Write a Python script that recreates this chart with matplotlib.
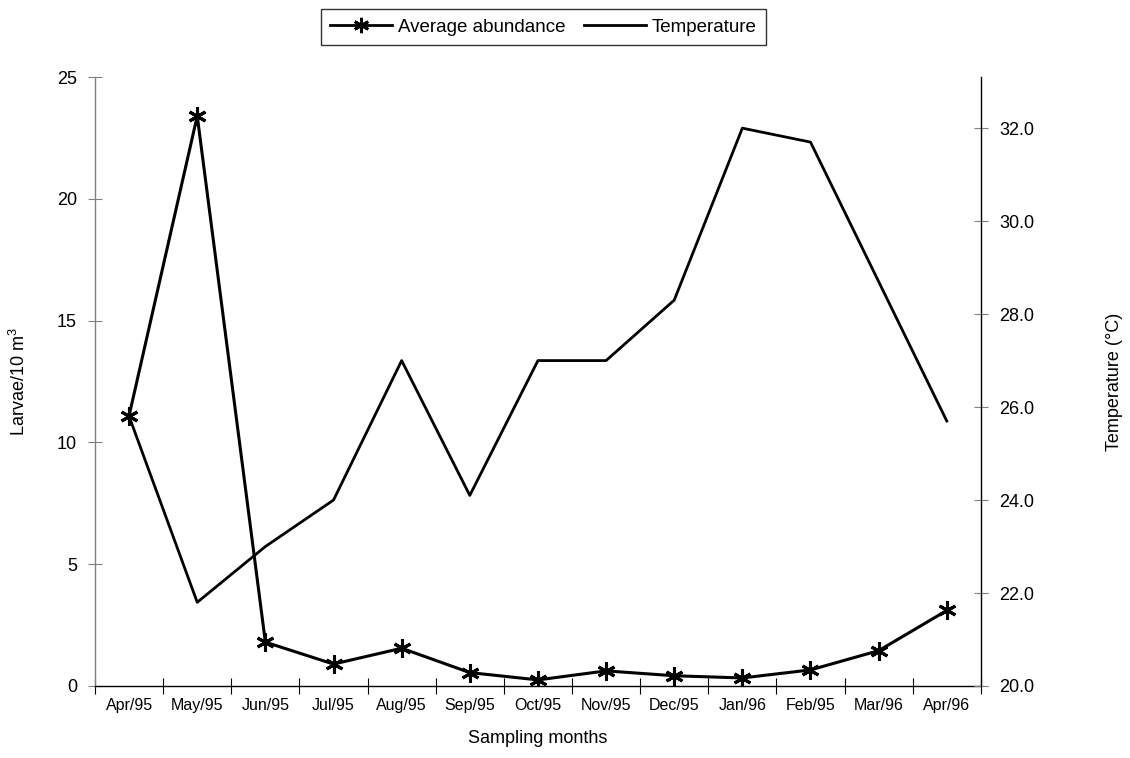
import numpy as np
import matplotlib
matplotlib.use("Agg")
import matplotlib.pyplot as plt
from matplotlib.lines import Line2D

plt.rcParams["font.family"] = ["Liberation Sans", "DejaVu Sans"]
plt.rcParams["mathtext.fontset"] = "custom"
plt.rcParams["mathtext.rm"] = "Liberation Sans"
plt.rcParams["mathtext.it"] = "Liberation Sans"

months = ["Apr/95", "May/95", "Jun/95", "Jul/95", "Aug/95", "Sep/95", "Oct/95",
          "Nov/95", "Dec/95", "Jan/96", "Feb/95", "Mar/96", "Apr/96"]
abundance = [11.1, 23.4, 1.8, 0.9, 1.55, 0.55, 0.25, 0.62, 0.42, 0.33, 0.66, 1.45, 3.1]
temperature = [25.8, 21.8, 23.0, 24.0, 27.0, 24.1, 27.0, 27.0, 28.3, 32.0, 31.7, 28.7, 25.7]

x = np.arange(len(months)) + 0.5

fig = plt.figure(figsize=(11.3, 7.58), dpi=100)
ax = fig.add_axes([0.0841, 0.095, 0.868 - 0.0841, 0.8984 - 0.095])
ax2 = ax.twinx()

star = (6, 2, 0)
ax.plot(x, abundance, color="black", lw=2.2, marker=star, ms=13, mew=2.2, zorder=5)
ax2.plot(x, temperature, color="black", lw=2.0)

ax.set_xlim(0, len(months))
ax.set_ylim(0, 25)
ax2.set_ylim(20, 33.1)

ax.set_xticks(np.arange(len(months) + 1))
ax.set_xticklabels([])
ax.set_xticks(x, minor=True)
ax.set_xticklabels(months, minor=True, fontsize=11.5)
ax.tick_params(axis="x", which="major", direction="inout", length=12, width=0.8)
ax.tick_params(axis="x", which="minor", length=0, pad=9)

ax.set_yticks([0, 5, 10, 15, 20, 25])
ax.tick_params(axis="y", direction="inout", length=10, width=0.8, labelsize=13,
               color="#808080", pad=8)
ax2.set_yticks([20, 22, 24, 26, 28, 30, 32])
ax2.set_yticklabels([f"{v:.1f}" for v in [20, 22, 24, 26, 28, 30, 32]])
ax2.tick_params(axis="y", direction="inout", length=10, width=0.8, labelsize=13,
                color="#808080", pad=8)

for a in (ax, ax2):
    a.spines["top"].set_visible(False)
ax.spines["right"].set_visible(False)
ax2.spines["left"].set_visible(False)
ax2.spines["bottom"].set_visible(False)
ax.spines["left"].set_color("#808080")
ax.spines["left"].set_linewidth(1.0)
ax.spines["bottom"].set_linewidth(1.0)
ax2.spines["right"].set_linewidth(1.0)

ax.set_xlabel("Sampling months", fontsize=13, labelpad=12)
ax.set_ylabel("Larvae/10 m$^{3}$", fontsize=13, labelpad=20)
ax2.set_ylabel("Temperature (°C)", fontsize=13, labelpad=52)

handles = [Line2D([], [], color="black", lw=2, marker=star, ms=11, mew=2),
           Line2D([], [], color="black", lw=2)]
fig.legend(handles, ["Average abundance", "Temperature"], loc="upper center",
           bbox_to_anchor=(0.481, 1.0), ncol=2, frameon=True, fancybox=False,
           edgecolor="black", fontsize=13.5, handlelength=3.3, columnspacing=1.0,
           borderpad=0.5, handletextpad=0.3)

fig.savefig("out.png", dpi=100)
